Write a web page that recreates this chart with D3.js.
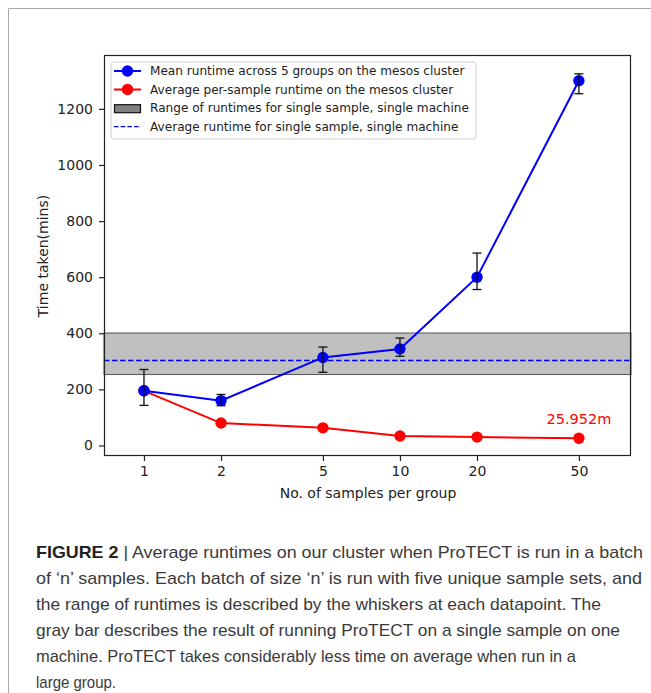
<!DOCTYPE html>
<html><head><meta charset="utf-8">
<script src="https://cdn.jsdelivr.net/npm/d3@7"></script>
<style>
html,body{margin:0;padding:0;background:#fff;}
svg{display:block;}
</style></head>
<body>
<svg id="chart" width="651" height="693"></svg>
<script>
// ---- data ----
const samples = [1, 2, 5, 10, 20, 50];
const meanRuntime = [195, 160, 314, 344, 600, 1300];
const errLow = [143, 142, 261, 318, 556, 1254];
const errHigh = [271, 182, 351, 383, 686, 1325];
const perSampleRuntime = [195, 80, 63, 34, 30, 25.952];
const bandRange = [253, 401];
const bandAverage = 303;
const xTicks = [1, 2, 5, 10, 20, 50];
const yTicks = [0, 200, 400, 600, 800, 1000, 1200];
const legendLabels = [
  "Mean runtime across 5 groups on the mesos cluster",
  "Average per-sample runtime on the mesos cluster",
  "Range of runtimes for single sample, single machine",
  "Average runtime for single sample, single machine"
];
const annotationText = "25.952m";
const xLabel = "No. of samples per group";
const yLabel = "Time taken(mins)";
const captionLines = [
  {bold: "FIGURE 2", rest: " | Average runtimes on our cluster when ProTECT is run in a batch", w: 607},
  {bold: "", rest: "of \u2018n\u2019 samples. Each batch of size \u2018n\u2019 is run with five unique sample sets, and", w: 606},
  {bold: "", rest: "the range of runtimes is described by the whiskers at each datapoint. The", w: 565},
  {bold: "", rest: "gray bar describes the result of running ProTECT on a single sample on one", w: 584},
  {bold: "", rest: "machine. ProTECT takes considerably less time on average when run in a", w: 540},
  {bold: "", rest: "large group.", w: 80}
];

// ---- layout ----
const svg = d3.select("#chart");
const plot = {left: 104, right: 631, top: 55, bottom: 456};
const FONT = "DejaVu Sans, sans-serif";

// outer frame lines
svg.append("line").attr("x1", 8.5).attr("x2", 651).attr("y1", 8.5).attr("y2", 8.5)
  .attr("stroke", "#aaa").attr("stroke-width", 1);
svg.append("line").attr("x1", 8.5).attr("x2", 8.5).attr("y1", 8.5).attr("y2", 693)
  .attr("stroke", "#aaa").attr("stroke-width", 1);

const x = d3.scaleLog().domain([0.698, 79.9]).range([plot.left, plot.right]);
const y = d3.scaleLinear().domain([-37.4, 1392]).range([plot.bottom, plot.top]);

const g = svg.append("g");

// band
g.append("rect")
  .attr("x", plot.left).attr("width", plot.right - plot.left)
  .attr("y", y(bandRange[1])).attr("height", y(bandRange[0]) - y(bandRange[1]))
  .attr("fill", "#c0c0c0").attr("stroke", "#555").attr("stroke-width", 1);

// average dashed line
g.append("line")
  .attr("x1", plot.left).attr("x2", plot.right)
  .attr("y1", y(bandAverage)).attr("y2", y(bandAverage))
  .attr("stroke", "#0000ff").attr("stroke-width", 1.4).attr("stroke-dasharray", "5.5,2.5");

const line = d3.line().x(d => x(d[0])).y(d => y(d[1]));

// red series
const redData = samples.map((s, i) => [s, perSampleRuntime[i]]);
g.append("path").attr("d", line(redData)).attr("fill", "none")
  .attr("stroke", "#ff0000").attr("stroke-width", 2);
g.selectAll(".rdot").data(redData).enter().append("circle")
  .attr("cx", d => x(d[0])).attr("cy", d => y(d[1])).attr("r", 5.7).attr("fill", "#ff0000");

// blue series
const blueData = samples.map((s, i) => [s, meanRuntime[i]]);
g.append("path").attr("d", line(blueData)).attr("fill", "none")
  .attr("stroke", "#0000ff").attr("stroke-width", 2);
g.selectAll(".bdot").data(blueData).enter().append("circle")
  .attr("cx", d => x(d[0])).attr("cy", d => y(d[1])).attr("r", 5.7).attr("fill", "#0000ff");

// error bars
const eb = g.selectAll(".eb").data(samples.map((s, i) => ({s, lo: errLow[i], hi: errHigh[i]}))).enter().append("g");
eb.append("line").attr("x1", d => x(d.s)).attr("x2", d => x(d.s))
  .attr("y1", d => y(d.lo)).attr("y2", d => y(d.hi)).attr("stroke", "#111").attr("stroke-width", 1.3);
eb.append("line").attr("x1", d => x(d.s) - 4.5).attr("x2", d => x(d.s) + 4.5)
  .attr("y1", d => y(d.lo)).attr("y2", d => y(d.lo)).attr("stroke", "#111").attr("stroke-width", 1.3);
eb.append("line").attr("x1", d => x(d.s) - 4.5).attr("x2", d => x(d.s) + 4.5)
  .attr("y1", d => y(d.hi)).attr("y2", d => y(d.hi)).attr("stroke", "#111").attr("stroke-width", 1.3);

// annotation
g.append("text").attr("x", x(samples[5])).attr("y", 424)
  .attr("text-anchor", "middle").attr("font-family", FONT).attr("font-size", 14.5)
  .attr("fill", "#ff0000").text(annotationText);

// axes frame
svg.append("rect").attr("x", plot.left + 0.5).attr("y", plot.top + 0.5)
  .attr("width", plot.right - plot.left - 1).attr("height", plot.bottom - plot.top - 1)
  .attr("fill", "none").attr("stroke", "#222").attr("stroke-width", 1.2);

// x axis
const xAxis = d3.axisBottom(x).tickValues(xTicks).tickFormat(d3.format("d")).tickSize(5).tickPadding(5);
const xg = svg.append("g").attr("transform", `translate(0,${plot.bottom})`).call(xAxis);
xg.select(".domain").remove();
xg.selectAll("line").attr("stroke", "#222").attr("stroke-width", 1.2);
xg.selectAll("text").attr("font-family", FONT).attr("font-size", 14).attr("fill", "#222");

// y axis
const yAxis = d3.axisLeft(y).tickValues(yTicks).tickFormat(d3.format("d")).tickSize(5).tickPadding(6);
const yg = svg.append("g").attr("transform", `translate(${plot.left},0)`).call(yAxis);
yg.select(".domain").remove();
yg.selectAll("line").attr("stroke", "#222").attr("stroke-width", 1.2);
yg.selectAll("text").attr("font-family", FONT).attr("font-size", 14).attr("fill", "#222");

// axis labels
svg.append("text").attr("x", 368).attr("y", 498).attr("text-anchor", "middle")
  .attr("font-family", FONT).attr("font-size", 14).attr("fill", "#222").text(xLabel);
svg.append("text").attr("transform", "translate(48,256) rotate(-90)").attr("text-anchor", "middle")
  .attr("font-family", FONT).attr("font-size", 14).attr("fill", "#222").text(yLabel);

// legend
const lg = svg.append("g");
lg.append("rect").attr("x", 111).attr("y", 62).attr("width", 365).attr("height", 77).attr("rx", 3)
  .attr("fill", "#fff").attr("fill-opacity", 0.85).attr("stroke", "#d0d0d0").attr("stroke-width", 1);
const rowY = [71, 89.5, 108.2, 126.7];
// row 1
lg.append("line").attr("x1", 114).attr("x2", 141).attr("y1", rowY[0]).attr("y2", rowY[0]).attr("stroke", "#0000ff").attr("stroke-width", 2);
lg.append("circle").attr("cx", 127.5).attr("cy", rowY[0]).attr("r", 5.7).attr("fill", "#0000ff");
// row 2
lg.append("line").attr("x1", 114).attr("x2", 141).attr("y1", rowY[1]).attr("y2", rowY[1]).attr("stroke", "#ff0000").attr("stroke-width", 2);
lg.append("circle").attr("cx", 127.5).attr("cy", rowY[1]).attr("r", 5.7).attr("fill", "#ff0000");
// row 3
lg.append("rect").attr("x", 114.5).attr("y", rowY[2] - 3.5).attr("width", 26).attr("height", 8)
  .attr("fill", "#808080").attr("stroke", "#111").attr("stroke-width", 1.2);
// row 4
lg.append("line").attr("x1", 114).attr("x2", 141).attr("y1", rowY[3]).attr("y2", rowY[3]).attr("stroke", "#0000ff").attr("stroke-width", 1.3).attr("stroke-dasharray", "4.5,2.2");
lg.selectAll(".lt").data(legendLabels).enter().append("text")
  .attr("x", 150).attr("y", (d, i) => rowY[i]).attr("dy", "0.35em")
  .attr("font-family", FONT).attr("font-size", 12.1).attr("fill", "#222").text(d => d);

// caption
const cap = svg.append("g");
captionLines.forEach((l, i) => {
  const t = cap.append("text").attr("x", 36).attr("y", 558 + i * 26)
    .attr("font-family", "Liberation Sans, Arial, sans-serif").attr("font-size", 17)
    .attr("fill", "#3a3a3a")
    .attr("textLength", l.w).attr("lengthAdjust", "spacingAndGlyphs");
  if (l.bold) t.append("tspan").attr("font-weight", "bold").attr("fill", "#222").text(l.bold);
  t.append("tspan").text(l.rest);
});
</script>
</body></html>
